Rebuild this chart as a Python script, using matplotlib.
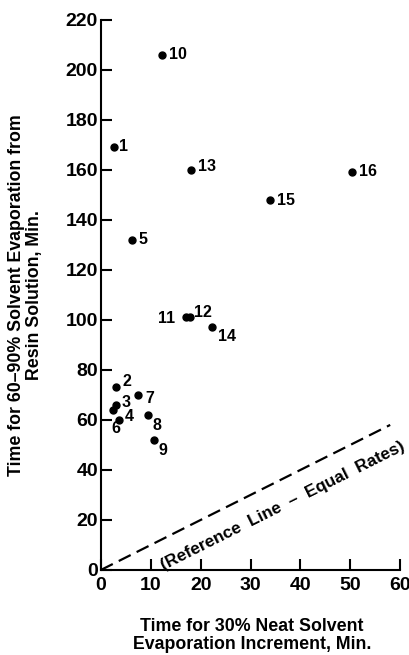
import matplotlib
matplotlib.use('Agg')
import matplotlib.pyplot as plt

plt.rcParams['font.family'] = ['Liberation Sans', 'DejaVu Sans']
plt.rcParams['font.weight'] = 'bold'

# Dati
labels = ['1', '2', '3', '4', '5', '6', '7', '8', '9', '10', '11', '12', '13', '14', '15', '16']
neat_time = [2.6, 3.0, 3.0, 3.6, 6.2, 2.4, 7.5, 9.5, 10.7, 12.3, 17.1, 17.9, 18.1, 22.3, 33.9, 50.4]
resin_time = [169, 73, 66, 60, 132, 64, 70, 62, 52, 206, 101, 101, 160, 97, 148, 159]

# posizione delle etichette (offset in punti)
offsets = {
    '1': (4, -5), '2': (5, -1), '3': (4, -4), '4': (4, -3), '5': (5, -5),
    '6': (-1, -19), '7': (5, -8), '8': (3, -13), '9': (3, -13), '10': (5, -5),
    '11': (-20, -6), '12': (3, -2), '13': (5, -3), '14': (4, -12),
    '15': (5, -6), '16': (5, -5),
}

ref_x = [0, 58]
ref_y = [0, 58]

x_ticks = [0, 10, 20, 30, 40, 50, 60]
y_ticks = [0, 20, 40, 60, 80, 100, 120, 140, 160, 180, 200, 220]

fig = plt.figure(figsize=(4.1, 6.55), dpi=100)
ax = fig.add_axes([0.246, 0.1298, 0.73, 0.84])

ax.plot(neat_time, resin_time, linestyle='', marker='o', markersize=5, color='k')

for lab, x, y in zip(labels, neat_time, resin_time):
    ax.annotate(lab, (x, y), xytext=offsets[lab], textcoords='offset points',
                fontsize=11.5, fontweight='bold', va='bottom', ha='left')

# Linea di riferimento
ax.plot(ref_x, ref_y, color='k', linestyle=(0, (6, 3)), linewidth=1.6)
ax.text(36.5, 25.5, '(Reference  Line  \u2013  Equal  Rates)', rotation=26.5,
        ha='center', va='center', fontsize=12.3, fontweight='bold')

ax.set_xlim(0, 60)
ax.set_ylim(0, 220)
ax.set_xticks(x_ticks)
ax.set_yticks(y_ticks)

for side in ['top', 'right']:
    ax.spines[side].set_visible(False)
for side in ['left', 'bottom']:
    ax.spines[side].set_linewidth(1.5)

ax.tick_params(axis='both', direction='in', length=8, width=1.5, labelsize=14)
ax.tick_params(axis='y', pad=2)
ax.tick_params(axis='x', pad=5)

fig.text(0.062, 0.55, 'Time for 60\u201390% Solvent Evaporation from\nResin Solution, Min.',
         rotation=90, ha='center', va='center', multialignment='center',
         fontsize=12.8, fontweight='bold', linespacing=1.1)

fig.text(0.615, 0.03, 'Time for 30% Neat Solvent\nEvaporation Increment, Min.',
         ha='center', va='center', multialignment='center',
         fontsize=12.8, fontweight='bold', linespacing=1.1)

plt.savefig('out.png', dpi=100)
